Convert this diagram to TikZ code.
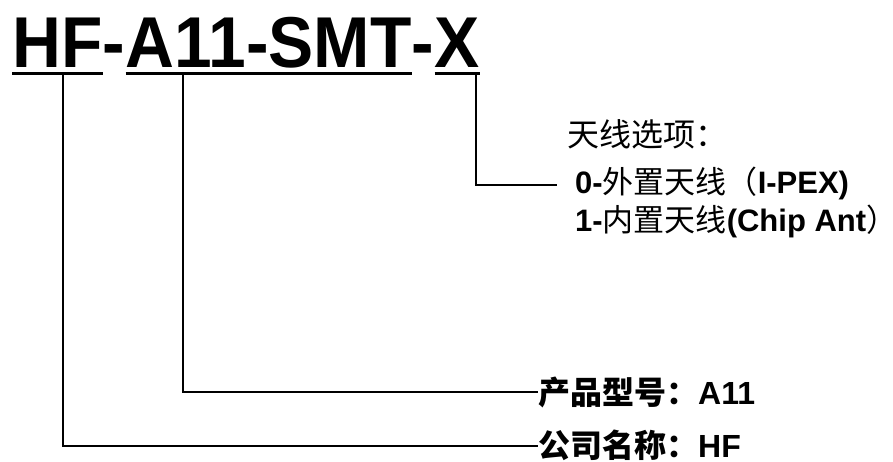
\documentclass[tikz,border=0pt]{standalone}
\usepackage{fontspec}
\setmainfont{Liberation Sans}
\newfontfamily\zhfont{Noto Sans CJK SC}
\newfontfamily\titlefont{Liberation Sans}[FakeStretch=0.94]
\usetikzlibrary{positioning}
\tikzset{part/.style={font=\titlefont\bfseries\fontsize{72}{72}\selectfont, inner sep=0pt, anchor=base west}}
\tikzset{uline/.style={line width=3.5pt}}
\tikzset{lead/.style={line width=1.6pt}}
\tikzset{lbl/.style={inner sep=0pt, anchor=west, font=\fontsize{32}{32}\selectfont}}
\tikzset{opt/.style={lbl, font=\fontsize{31}{31}\selectfont}}
\newcommand{\zh}[1]{{\zhfont #1}}
\newcommand{\en}[1]{{\bfseries #1}}
\begin{document}
\begin{tikzpicture}[x=1pt,y=-1pt]
   \useasboundingbox (0,0) rectangle (893,461);
   % part number
   \node[part] (hf)    at (12,67)          {HF};
   \node[part] (dashA) at (hf.base east)    {-};
   \node[part] (model) at (dashA.base east) {A11-SMT};
   \node[part] (dashB) at (model.base east) {-};
   \node[part] (ant)   at (dashB.base east) {X};

   \foreach \p in {hf,model,ant}
      \draw[uline] ([yshift=-6.5pt]\p.base west) -- ([yshift=-6.5pt]\p.base east);

   \coordinate (hftap)    at (63,73);
   \coordinate (modeltap) at (183,73);
   \coordinate (anttap)   at (476,73);

   % labels
   \node[lbl] (antopt)  at (567,134) {\zh{天线选项：}};
   \node[opt] (opt0)    at (575,183) {\en{0-}\zh{外置天线（}\en{I-PEX)}};
   \node[opt] (opt1)    at (575,221) {\en{1-}\zh{内置天线}\en{(Chip Ant}\zh{）}};
   \node[lbl] (modelno) at (538,392) {\zh{\bfseries 产品型号：}\en{A11}};
   \node[lbl] (company) at (538,445) {\zh{\bfseries 公司名称：}\en{HF}};

   \draw[lead] (hftap) |- ([yshift=-1pt]company.west);
   \draw[lead] (modeltap) |- (modelno.west);
   \draw[lead] (anttap) |- ([xshift=-18pt,yshift=-2pt]opt0.west);
\end{tikzpicture}
\end{document}
